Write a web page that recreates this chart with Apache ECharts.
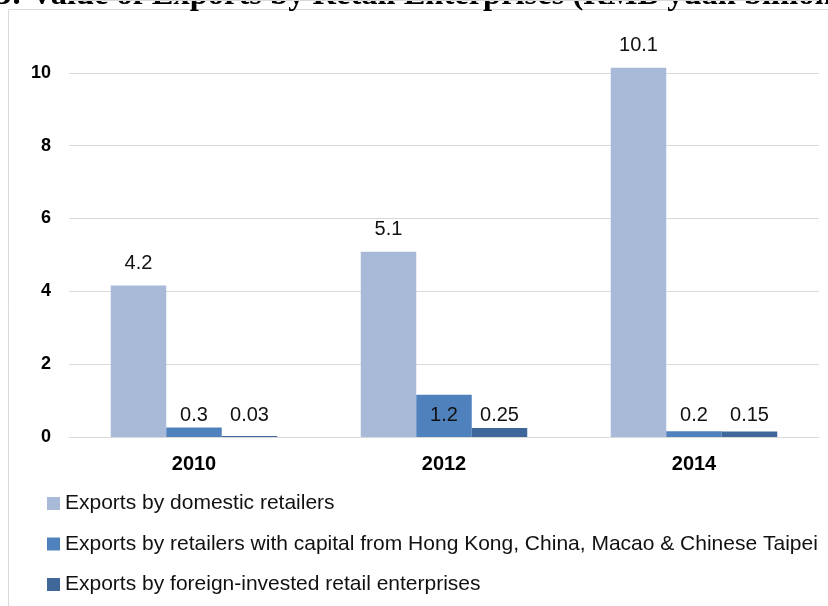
<!DOCTYPE html>
<html>
<head>
<meta charset="utf-8">
<script src="https://cdn.jsdelivr.net/npm/echarts@6/dist/echarts.min.js"></script>
<style>
html,body{margin:0;padding:0;background:#fff;}
#chart{width:828px;height:606px;}
</style>
</head>
<body>
<div id="chart"></div>
<script>
const titleText = 'Figure 3: Value of Exports by Retail Enterprises (RMB yuan billion)';
const categories = ['2010', '2012', '2014'];
const seriesNames = [
  'Exports by domestic retailers',
  'Exports by retailers with capital from Hong Kong, China, Macao & Chinese Taipei',
  'Exports by foreign-invested retail enterprises'
];
const domestic = [4.16, 5.09, 10.14];
const hkMacaoTaipei = [0.26, 1.16, 0.16];
const foreign = [0.03, 0.25, 0.15];
const labelDecimals = [1, 1, 2];
const yTicks = [0, 2, 4, 6, 8, 10, 12];

const colors = ['#A9B9D8', '#4F81BD', '#3F679A'];
const sans = '"Liberation Sans", Arial, sans-serif';
const serif = '"Liberation Serif", "Times New Roman", serif';

// measure prefix so that "3:" begins near the left edge (title clipped like the reference)
const ctx = document.createElement('canvas').getContext('2d');
const titleSize = 32.5;
ctx.font = 'bold ' + titleSize + 'px ' + serif;
const prefixW = ctx.measureText('Figure ').width;

const chart = echarts.init(document.getElementById('chart'), null, {renderer: 'canvas'});

function mkSeries(i, data, labelOpt) {
  return {
    name: seriesNames[i],
    type: 'bar',
    data: data,
    barGap: '0%',
    barCategoryGap: '33.4%',
    itemStyle: {color: colors[i]},
    label: Object.assign({
      show: true,
      color: '#111',
      fontFamily: sans,
      fontSize: 20,
      formatter: p => p.value.toFixed(labelDecimals[i])
    }, labelOpt)
  };
}

chart.setOption({
  animation: false,
  backgroundColor: '#fff',
  color: colors,
  graphic: [
    {
      type: 'rect',
      shape: {x: 8.5, y: 9.5, width: 900, height: 700},
      style: {fill: 'none', stroke: '#d9d9d9', lineWidth: 1},
      z: -10
    },
    {
      type: 'text',
      x: -5 - prefixW,
      y: 12,
      style: {
        text: titleText,
        font: 'bold ' + titleSize + 'px ' + serif,
        fill: '#000',
        textAlign: 'left',
        textVerticalAlign: 'bottom'
      }
    }
  ],
  grid: {left: 69, right: 9, top: -1, bottom: 169, containLabel: false},
  legend: {
    orient: 'vertical',
    left: 47,
    top: 493,
    padding: 0,
    itemWidth: 13,
    itemHeight: 13,
    itemGap: 19.5,
    icon: 'rect',
    textStyle: {fontFamily: sans, fontSize: 21, color: '#111'},
    data: seriesNames
  },
  xAxis: {
    type: 'category',
    data: categories,
    axisTick: {show: false},
    axisLine: {lineStyle: {color: '#d9d9d9'}},
    axisLabel: {fontFamily: sans, fontSize: 20, fontWeight: 'bold', color: '#000', margin: 17}
  },
  yAxis: {
    type: 'value',
    min: yTicks[0],
    max: yTicks[yTicks.length - 1],
    interval: yTicks[1] - yTicks[0],
    axisLine: {show: false},
    axisTick: {show: false},
    splitLine: {lineStyle: {color: '#d9d9d9'}},
    axisLabel: {fontFamily: sans, fontSize: 18, fontWeight: 'bold', color: '#000', margin: 18, showMaxLabel: false}
  },
  series: [
    mkSeries(0, domestic, {position: 'top', distance: 12.5}),
    mkSeries(1, hkMacaoTaipei, {position: 'insideBottom', distance: 12}),
    mkSeries(2, foreign, {position: 'insideBottom', distance: 12})
  ]
});
</script>
</body>
</html>
